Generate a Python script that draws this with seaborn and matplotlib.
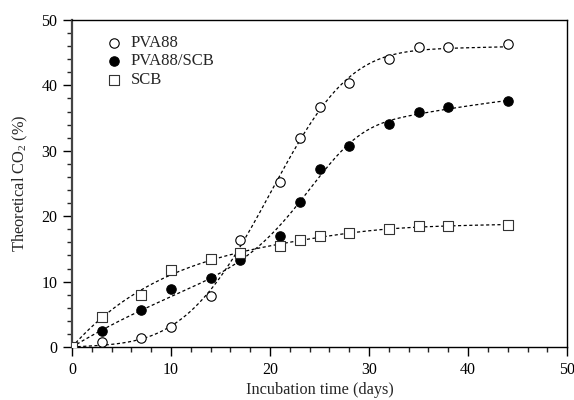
import numpy as np
import pandas as pd
import matplotlib
matplotlib.use("Agg")
import matplotlib.pyplot as plt
import seaborn as sns
from matplotlib.ticker import MultipleLocator

days = [0, 3, 7, 10, 14, 17, 21, 23, 25, 28, 32, 35, 38, 44]
pva88 = [0.0, 0.8, 1.3, 3.0, 7.8, 16.3, 25.2, 32.0, 36.7, 40.4, 44.0, 45.8, 45.9, 46.3]
pva88_scb = [0.0, 2.5, 5.6, 8.8, 10.5, 13.3, 17.0, 22.2, 27.2, 30.8, 34.1, 35.9, 36.7, 37.6]
scb = [0.0, 4.6, 8.0, 11.7, 13.4, 14.4, 15.4, 16.4, 16.9, 17.4, 18.0, 18.5, 18.5, 18.6]
series_names = ["PVA88", "PVA88/SCB", "SCB"]

sns.set_theme(style="ticks")
plt.rcParams["font.family"] = ["Liberation Serif", "DejaVu Serif"]
plt.rcParams["mathtext.fontset"] = "custom"
plt.rcParams["mathtext.rm"] = "Liberation Serif"

df = pd.DataFrame({
    "days": days * 3,
    "value": pva88 + pva88_scb + scb,
    "series": sum([[n] * len(days) for n in series_names], []),
})

fig = plt.figure(figsize=(5.74, 4.0), dpi=100)
ax = fig.add_axes([0.1254, 0.1325, 0.8626, 0.8175])


def two_phase_fit(x, y):
    """Least-squares fit of a(1-exp(-kx)) + A(1-exp(-(x/b)^c)) by grid search."""
    x = np.asarray(x, float)
    y = np.asarray(y, float)
    ks = np.linspace(0.02, 0.6, 40)[:, None, None, None]
    bs = np.linspace(5, 40, 71)[None, :, None, None]
    cs = np.linspace(1.0, 6.0, 51)[None, None, :, None]
    X = x[None, None, None, :]
    f1 = (1 - np.exp(-ks * X)) * np.ones_like(bs) * np.ones_like(cs)
    f2 = (1 - np.exp(-(X / bs) ** cs)) * np.ones_like(ks)
    s11 = (f1 * f1).sum(-1); s22 = (f2 * f2).sum(-1); s12 = (f1 * f2).sum(-1)
    r1 = (f1 * y).sum(-1); r2 = (f2 * y).sum(-1)
    det = s11 * s22 - s12 ** 2
    det = np.where(np.abs(det) < 1e-12, np.nan, det)
    a = (r1 * s22 - r2 * s12) / det
    A = (r2 * s11 - r1 * s12) / det
    pred = a[..., None] * f1 + A[..., None] * f2
    err = ((pred - y) ** 2).sum(-1)
    err = np.where((a >= 0) & (A >= 0), err, np.inf)
    err = np.nan_to_num(err, nan=np.inf)
    i, j, l = np.unravel_index(np.argmin(err), err.shape)
    k = ks.ravel()[i]; b = bs.ravel()[j]; c = cs.ravel()[l]
    aa = a[i, j, l]; AA = A[i, j, l]
    xs = np.linspace(0, x.max(), 300)
    return xs, aa * (1 - np.exp(-k * xs)) + AA * (1 - np.exp(-(xs / b) ** c))


for vals in [pva88, pva88_scb, scb]:
    xs, ys = two_phase_fit(days, vals)
    ax.plot(xs, ys, color="black", lw=0.9, ls=(0, (2.5, 2)), zorder=1)

styles = {
    "PVA88": dict(marker="o", s=46, facecolor="white", edgecolor="black", linewidth=0.8),
    "PVA88/SCB": dict(marker="o", s=46, facecolor="black", edgecolor="black", linewidth=0.8),
    "SCB": dict(marker="s", s=62, facecolor="white", edgecolor="#333333", linewidth=0.8),
}
for name in series_names:
    sub = df[df.series == name]
    sns.scatterplot(data=sub, x="days", y="value", ax=ax, label=name, zorder=3, **styles[name])

ax.set_xlim(0, 50)
ax.set_ylim(0, 50)
ax.xaxis.set_major_locator(MultipleLocator(10))
ax.xaxis.set_minor_locator(MultipleLocator(2))
ax.yaxis.set_major_locator(MultipleLocator(10))
ax.yaxis.set_minor_locator(MultipleLocator(2))
ax.tick_params(which="major", direction="out", length=6.5, width=1.0, labelsize=11.5,
               colors="black", pad=4)
ax.tick_params(which="minor", direction="out", length=3.5, width=1.0)
for side in ["left", "bottom", "top", "right"]:
    ax.spines[side].set_visible(True)
    ax.spines[side].set_color("black")
    ax.spines[side].set_linewidth(1.0)
ax.spines["left"].set_linewidth(1.6)
ax.spines["left"].set_color("#444444")

ax.set_xlabel("Incubation time (days)", fontsize=11.7, labelpad=3)
ax.set_ylabel("Theoretical CO$_2$ (%)", fontsize=11.8, labelpad=8)

leg = ax.legend(loc="upper left", frameon=False, fontsize=12, bbox_to_anchor=(0.045, 0.99),
                handletextpad=0.5, labelspacing=0.15, borderaxespad=0.3, handlelength=1.0)

fig.savefig("out.png", dpi=100)
